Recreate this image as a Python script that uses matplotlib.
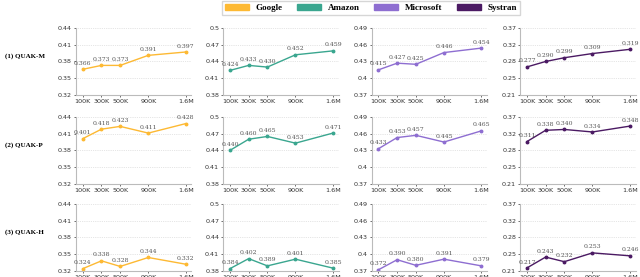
import matplotlib.pyplot as plt
from matplotlib.patches import Patch
import numpy as np

sizes = ["100K", "300K", "500K", "900K", "1.6M"]
x_pos = [0, 1, 2, 3.5, 5.5]

systems = ["Google", "Amazon", "Microsoft", "Systran"]
colors = ["#FDB933", "#3AA68F", "#8E6ED1", "#4B1A63"]
rows = ["(1) QUAK-M", "(2) QUAK-P", "(3) QUAK-H"]

google = [[0.366, 0.373, 0.373, 0.391, 0.397],
          [0.401, 0.418, 0.423, 0.411, 0.428],
          [0.324, 0.338, 0.328, 0.344, 0.332]]
amazon = [[0.424, 0.433, 0.430, 0.452, 0.459],
          [0.440, 0.460, 0.465, 0.453, 0.471],
          [0.384, 0.402, 0.389, 0.401, 0.385]]
microsoft = [[0.415, 0.427, 0.425, 0.446, 0.454],
             [0.433, 0.453, 0.457, 0.445, 0.465],
             [0.372, 0.390, 0.380, 0.391, 0.379]]
systran = [[0.277, 0.290, 0.299, 0.309, 0.319],
           [0.311, 0.338, 0.340, 0.334, 0.348],
           [0.217, 0.243, 0.232, 0.253, 0.246]]
series = [google, amazon, microsoft, systran]

ylims = [(0.32, 0.44), (0.38, 0.50), (0.37, 0.49), (0.21, 0.37)]
ylabels = [["0.32", "0.35", "0.38", "0.41", "0.44"],
           ["0.38", "0.41", "0.44", "0.47", "0.5"],
           ["0.37", "0.4", "0.43", "0.46", "0.49"],
           ["0.21", "0.25", "0.28", "0.32", "0.37"]]

fig = plt.figure(figsize=(6.4, 2.77), dpi=100)

lefts = [0.119, 0.349, 0.581, 0.813]
bottoms = [0.657, 0.336, 0.022]
w, h = 0.18, 0.242

for r in range(3):
    for c in range(4):
        ax = fig.add_axes([lefts[c], bottoms[r], w, h])
        vals = series[c][r]
        ax.plot(x_pos, vals, color=colors[c], lw=1.0, marker="o", ms=1.8)
        for xp, v in zip(x_pos, vals):
            ax.annotate(f"{v:.3f}", (xp, v), xytext=(0, 2.5), textcoords="offset points",
                        ha="center", va="bottom", fontsize=4.4, family="DejaVu Serif",
                        color="#555555")
        lo, hi = ylims[c]
        ax.set_ylim(lo, hi)
        ax.set_yticks(np.linspace(lo, hi, 5))
        ax.set_yticklabels(ylabels[c])
        ax.set_xlim(-0.35, 5.8)
        ax.set_xticks(x_pos)
        ax.set_xticklabels(sizes)
        ax.tick_params(labelsize=4.6, length=1.5, width=0.5, pad=1.5,
                       colors="#333333")
        ax.grid(axis="y", ls=":", lw=0.5, color="#cccccc")
        for s in ["top", "right"]:
            ax.spines[s].set_visible(False)
        for s in ["left", "bottom"]:
            ax.spines[s].set_color("#bbbbbb")
            ax.spines[s].set_linewidth(0.8)
    fig.text(0.008, bottoms[r] + h * 0.58, rows[r], fontsize=5, fontweight="bold",
             family="Liberation Serif", va="center", ha="left")

handles = [Patch(color=col, label=s) for col, s in zip(colors, systems)]
fig.legend(handles=handles, loc="upper center", bbox_to_anchor=(0.58, 1.012), ncol=4,
           prop={"family": "Liberation Serif", "weight": "bold", "size": 6.5},
           handlelength=2.6, handleheight=0.6, columnspacing=1.6, handletextpad=0.8,
           borderpad=0.3, frameon=True, fancybox=False, edgecolor="#cccccc")

fig.savefig("out.png", dpi=100)
